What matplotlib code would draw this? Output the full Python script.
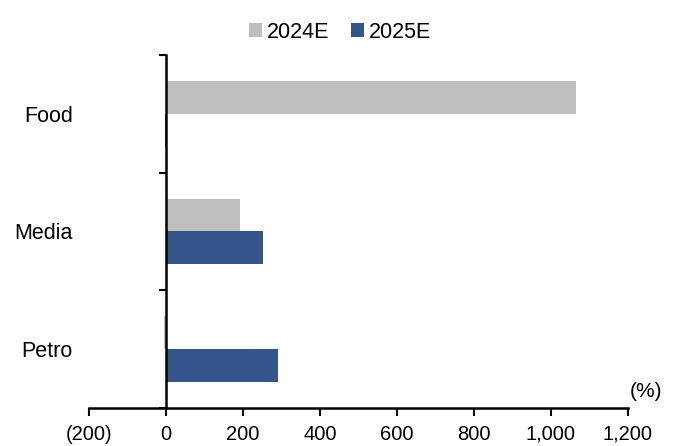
import matplotlib.pyplot as plt
import numpy as np

plt.rcParams['font.family'] = ['Liberation Sans', 'DejaVu Sans']

categories = ['Food', 'Media', 'Petro']
series = ['2024E', '2025E']
val_2024 = [1065, 192, -4]
val_2025 = [-3, 252, 291]
xticks = [-200, 0, 200, 400, 600, 800, 1000, 1200]
xticklabels = ['(200)', '0', '200', '400', '600', '800', '1,000', '1,200']
colors = ['#BFBFBF', '#34548A']

fig = plt.figure(figsize=(6.78, 4.46), dpi=100)
ax = fig.add_axes([0.131, 0.085, 0.795, 0.792])

y = np.arange(len(categories))[::-1]
h = 0.28
ax.barh(y + h / 2, val_2024, height=h, color=colors[0], label=series[0])
ax.barh(y - h / 2, val_2025, height=h, color=colors[1], label=series[1])

ax.set_xlim(-200, 1200)
ax.set_ylim(-0.5, 2.5)
ax.set_xticks(xticks)
ax.set_xticklabels(xticklabels)

ax.set_yticks([-0.5, 0.5, 1.5, 2.5])
ax.set_yticklabels([])
ax.set_yticks(y, minor=True)
ax.set_yticklabels(categories, minor=True)
ax.tick_params(axis='y', which='minor', length=0, pad=67, labelsize=15.5)
ax.tick_params(axis='y', which='major', length=5, width=1.5, direction='out')
ax.tick_params(axis='x', length=6, width=1.5, direction='out', pad=6, labelsize=14.5)

ax.spines['left'].set_position(('data', 0))
ax.spines['left'].set_linewidth(1.8)
ax.spines['bottom'].set_linewidth(1.8)
ax.spines['right'].set_visible(False)
ax.spines['top'].set_visible(False)

ax.text(1.003, 0.02, '(%)', transform=ax.transAxes, fontsize=15, ha='left', va='bottom')

ax.legend(loc='lower center', bbox_to_anchor=(0.466, 1.01), ncol=2, frameon=False,
          fontsize=15.5, handlelength=0.6, handleheight=0.6, handletextpad=0.25,
          columnspacing=1.0, borderaxespad=0)

fig.savefig('out.png', dpi=100)
